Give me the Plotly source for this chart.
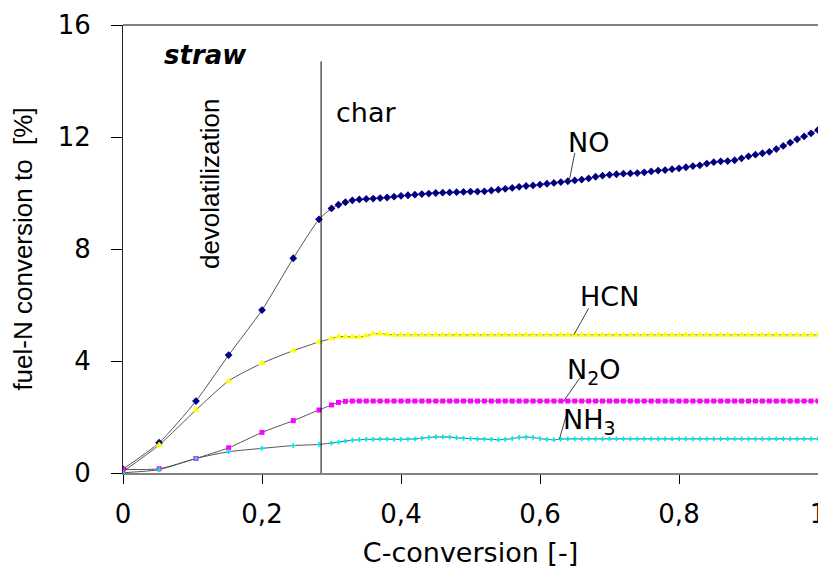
import plotly.graph_objects as go

# ---------------- data ----------------
DEVOL_X = [0.0, 0.052, 0.105, 0.152, 0.200, 0.245, 0.282]
CHAR_X = [0.30, 0.31, 0.32, 0.33, 0.34, 0.35, 0.36, 0.37, 0.38, 0.39,
          0.40, 0.41, 0.42, 0.43, 0.44, 0.45, 0.46, 0.47, 0.48, 0.49,
          0.50, 0.51, 0.52, 0.53, 0.54, 0.55, 0.56, 0.57, 0.58, 0.59,
          0.60, 0.61, 0.62, 0.63, 0.64, 0.65, 0.66, 0.67, 0.68, 0.69,
          0.70, 0.71, 0.72, 0.73, 0.74, 0.75, 0.76, 0.77, 0.78, 0.79,
          0.80, 0.81, 0.82, 0.83, 0.84, 0.85, 0.86, 0.87, 0.88, 0.89,
          0.90, 0.91, 0.92, 0.93, 0.94, 0.95, 0.96, 0.97, 0.98, 0.99, 1.00]

NO_DEVOL = [0.14, 1.08, 2.57, 4.21, 5.82, 7.67, 9.06]
NO_CHAR = [9.45, 9.58, 9.67, 9.74, 9.77, 9.79, 9.80, 9.82, 9.84, 9.87,
           9.90, 9.92, 9.94, 9.96, 9.98, 10.00, 10.01, 10.02, 10.03, 10.04,
           10.05, 10.05, 10.06, 10.09, 10.12, 10.15, 10.18, 10.22, 10.25, 10.27,
           10.30, 10.33, 10.36, 10.39, 10.42, 10.45, 10.48, 10.52, 10.58, 10.62,
           10.65, 10.67, 10.69, 10.70, 10.71, 10.74, 10.77, 10.80, 10.82, 10.85,
           10.88, 10.92, 10.96, 10.99, 11.05, 11.10, 11.13, 11.14, 11.17, 11.24,
           11.31, 11.37, 11.42, 11.47, 11.57, 11.68, 11.80, 11.92, 12.02, 12.13, 12.25]

HCN_DEVOL = [0.05, 1.00, 2.25, 3.29, 3.92, 4.37, 4.68]
HCN_CHAR = [4.80, 4.87, 4.87, 4.86, 4.86, 4.90, 4.97, 4.98, 4.95, 4.93,
            4.93, 4.93, 4.93, 4.93, 4.93, 4.93, 4.93, 4.93, 4.93, 4.93,
            4.93, 4.93, 4.93, 4.93, 4.93, 4.93, 4.93, 4.93, 4.93, 4.93,
            4.93, 4.93, 4.93, 4.93, 4.93, 4.93, 4.93, 4.93, 4.93, 4.93,
            4.93, 4.93, 4.93, 4.93, 4.93, 4.93, 4.93, 4.93, 4.93, 4.93,
            4.93, 4.93, 4.93, 4.93, 4.93, 4.93, 4.93, 4.93, 4.93, 4.93,
            4.93, 4.93, 4.93, 4.93, 4.93, 4.93, 4.93, 4.93, 4.93, 4.93, 4.93]

N2O_DEVOL = [0.13, 0.15, 0.52, 0.90, 1.45, 1.87, 2.25]
N2O_CHAR = [2.43, 2.52, 2.56, 2.57, 2.57, 2.57, 2.57, 2.57, 2.57, 2.57,
            2.57, 2.57, 2.57, 2.57, 2.57, 2.57, 2.57, 2.57, 2.57, 2.57,
            2.57, 2.57, 2.57, 2.57, 2.57, 2.57, 2.57, 2.57, 2.57, 2.57,
            2.57, 2.57, 2.57, 2.57, 2.57, 2.57, 2.57, 2.57, 2.57, 2.57,
            2.57, 2.57, 2.57, 2.57, 2.57, 2.57, 2.57, 2.57, 2.57, 2.57,
            2.57, 2.57, 2.57, 2.57, 2.57, 2.57, 2.57, 2.57, 2.57, 2.57,
            2.57, 2.57, 2.57, 2.57, 2.57, 2.57, 2.57, 2.57, 2.57, 2.57, 2.57]

NH3_DEVOL = [0.01, 0.12, 0.52, 0.76, 0.88, 0.98, 1.02]
NH3_CHAR = [1.07, 1.10, 1.14, 1.17, 1.19, 1.20, 1.20, 1.21, 1.21, 1.20,
            1.20, 1.21, 1.22, 1.24, 1.27, 1.29, 1.29, 1.28, 1.26, 1.24,
            1.23, 1.22, 1.21, 1.20, 1.19, 1.20, 1.23, 1.27, 1.28, 1.27,
            1.23, 1.20, 1.19, 1.21, 1.22, 1.22, 1.22, 1.22, 1.22, 1.22,
            1.22, 1.22, 1.22, 1.22, 1.22, 1.22, 1.22, 1.22, 1.22, 1.22,
            1.22, 1.22, 1.22, 1.22, 1.22, 1.22, 1.22, 1.22, 1.22, 1.22,
            1.22, 1.22, 1.22, 1.22, 1.22, 1.22, 1.22, 1.22, 1.22, 1.22, 1.22]

X_TICKS = [0, 0.2, 0.4, 0.6, 0.8, 1.0]
X_TICKTEXT = ["0", "0,2", "0,4", "0,6", "0,8", "1"]
Y_TICKS = [0, 4, 8, 12, 16]

PHASE_BOUNDARY = 0.285

FONT_H = "DejaVu Sans, Arial, sans-serif"        # wide horizontal texts
FONT_V = "Liberation Sans, Arial, sans-serif"    # rotated texts

series = [
    ("NO", NO_DEVOL + NO_CHAR, "#000080", "diamond", 6),
    ("HCN", HCN_DEVOL + HCN_CHAR, "#FFFF00", "triangle-up", 7),
    ("N2O", N2O_DEVOL + N2O_CHAR, "#FF00FF", "square", 5),
    ("NH3", NH3_DEVOL + NH3_CHAR, "#00E5E5", "cross", 4),
]

fig = go.Figure()
xs = DEVOL_X + CHAR_X
for name, ys, col, sym, sz in series:
    fig.add_trace(go.Scatter(
        x=xs, y=ys, name=name, mode="lines+markers",
        line=dict(color="#555555", width=1, shape="spline", smoothing=0.6),
        marker=dict(color=col, symbol=sym, size=sz, line=dict(width=0)),
        showlegend=False, hoverinfo="x+y+name",
    ))

fig.update_layout(
    width=818, height=572,
    margin=dict(l=123, r=0, t=25, b=99),
    paper_bgcolor="white", plot_bgcolor="white",
    font=dict(family=FONT_H, size=26, color="black"),
    xaxis=dict(
        range=[0, 1.0], tickvals=X_TICKS, ticktext=X_TICKTEXT,
        ticks="outside", ticklen=9, tickwidth=1, tickcolor="black",
        showline=True, linecolor="#808080", linewidth=2,
        showgrid=False, zeroline=False, automargin=False,
        ticklabelstandoff=8, ticklabeloverflow="allow",
        tickfont=dict(family=FONT_H, size=26),
        title=dict(text="C-conversion [-]", font=dict(family=FONT_H, size=27), standoff=15),
    ),
    xaxis2=dict(
        range=[0, 1.0], tickvals=X_TICKS, overlaying="x", anchor="y", side="bottom",
        ticks="inside", ticklen=8, tickwidth=1, tickcolor="black",
        showticklabels=False, showline=False, showgrid=False, zeroline=False,
    ),
    yaxis=dict(
        range=[0, 16], tickvals=Y_TICKS,
        ticks="outside", ticklen=11, tickwidth=1, tickcolor="black",
        showline=True, linecolor="#202020", linewidth=1,
        showgrid=False, zeroline=False, automargin=False,
        ticklabelstandoff=15, ticklabeloverflow="allow",
        tickfont=dict(family=FONT_H, size=26),
        title=dict(text="fuel-N conversion to  [%]", font=dict(family=FONT_V, size=26), standoff=17),
    ),
    yaxis2=dict(
        range=[0, 16], tickvals=Y_TICKS, overlaying="y", anchor="x", side="left",
        ticks="inside", ticklen=11, tickwidth=1, tickcolor="black",
        showticklabels=False, showline=False, showgrid=False, zeroline=False,
    ),
)

# top frame line
fig.add_shape(type="line", xref="paper", yref="paper", x0=0, x1=1, y0=1, y1=1,
              line=dict(color="black", width=1))
# phase boundary
fig.add_shape(type="line", xref="x", yref="y", x0=PHASE_BOUNDARY, x1=PHASE_BOUNDARY,
              y0=0, y1=14.7, line=dict(color="black", width=1))

# leader lines for labels
leaders = [
    (0.650, 11.43, 0.642, 10.43),
    (0.670, 5.88, 0.649, 4.95),
    (0.657, 3.38, 0.634, 2.57),
    (0.638, 2.07, 0.628, 1.22),
]
for x0, y0, x1, y1 in leaders:
    fig.add_shape(type="line", xref="x", yref="y", x0=x0, y0=y0, x1=x1, y1=y1,
                  line=dict(color="#404040", width=1))

labels = [
    ("<b><i>straw</i></b>", 0.118, 14.93, 0, FONT_H, 26),
    ("devolatilization", 0.126, 10.34, -90, FONT_V, 26),
    ("char", 0.350, 12.89, 0, FONT_H, 27),
    ("NO", 0.670, 11.82, 0, FONT_H, 27),
    ("HCN", 0.700, 6.30, 0, FONT_H, 27),
    ("N<sub>2</sub>O", 0.677, 3.62, 0, FONT_H, 27),
    ("NH<sub>3</sub>", 0.671, 1.83, 0, FONT_H, 27),
]
for txt, x, y, ang, fam, sz in labels:
    fig.add_annotation(text=txt, x=x, y=y, xref="x", yref="y", showarrow=False,
                       textangle=ang, font=dict(family=fam, size=sz, color="black"),
                       xanchor="center", yanchor="middle")

fig.write_html("out.html")
